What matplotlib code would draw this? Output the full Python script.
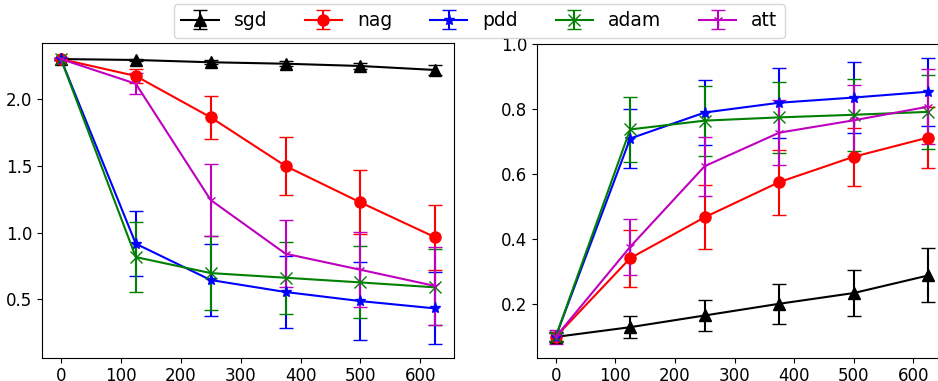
import numpy as np
import matplotlib.pyplot as plt

steps = [0, 125, 250, 375, 500, 625]
names = ["sgd", "nag", "pdd", "adam", "att"]
colors = ["k", "r", "b", "g", "m"]
markers = ["^", "o", "*", "x", "1"]

# left panel: loss
loss_sgd = [2.302, 2.295, 2.278, 2.267, 2.250, 2.220]
loss_nag = [2.302, 2.175, 1.865, 1.500, 1.227, 0.965]
loss_pdd = [2.302, 0.917, 0.645, 0.555, 0.487, 0.432]
loss_adam = [2.302, 0.817, 0.697, 0.662, 0.627, 0.590]
loss_att = [2.302, 2.117, 1.245, 0.842, 0.722, 0.600]
loss_sgd_err = [0.005, 0.010, 0.015, 0.020, 0.026, 0.034]
loss_nag_err = [0.005, 0.050, 0.159, 0.220, 0.240, 0.245]
loss_pdd_err = [0.005, 0.245, 0.270, 0.270, 0.290, 0.270]
loss_adam_err = [0.005, 0.265, 0.280, 0.270, 0.270, 0.285]
loss_att_err = [0.005, 0.080, 0.270, 0.250, 0.280, 0.290]

# right panel: accuracy
acc_sgd = [0.100, 0.130, 0.166, 0.202, 0.235, 0.289]
acc_nag = [0.100, 0.342, 0.468, 0.576, 0.654, 0.713]
acc_pdd = [0.100, 0.710, 0.790, 0.820, 0.836, 0.854]
acc_adam = [0.100, 0.738, 0.765, 0.775, 0.783, 0.792]
acc_att = [0.100, 0.377, 0.625, 0.728, 0.766, 0.808]
acc_sgd_err = [0.012, 0.034, 0.049, 0.062, 0.071, 0.083]
acc_nag_err = [0.015, 0.088, 0.098, 0.100, 0.089, 0.094]
acc_pdd_err = [0.015, 0.090, 0.100, 0.107, 0.108, 0.104]
acc_adam_err = [0.012, 0.101, 0.108, 0.110, 0.110, 0.113]
acc_att_err = [0.022, 0.087, 0.091, 0.099, 0.110, 0.115]

loss = [loss_sgd, loss_nag, loss_pdd, loss_adam, loss_att]
loss_err = [loss_sgd_err, loss_nag_err, loss_pdd_err, loss_adam_err, loss_att_err]
acc = [acc_sgd, acc_nag, acc_pdd, acc_adam, acc_att]
acc_err = [acc_sgd_err, acc_nag_err, acc_pdd_err, acc_adam_err, acc_att_err]

fig = plt.figure(figsize=(9.38, 3.81), dpi=100)
ax1 = fig.add_axes([0.045, 0.061, 0.439, 0.826])
ax2 = fig.add_axes([0.5725, 0.061, 0.437, 0.823])

for i in range(len(names)):
    ax1.errorbar(steps, loss[i], yerr=loss_err[i], color=colors[i], marker=markers[i],
                 markersize=8, capsize=5, label=names[i])
    ax2.errorbar(steps, acc[i], yerr=acc_err[i], color=colors[i], marker=markers[i],
                 markersize=8, capsize=5)

for ax in [ax1, ax2]:
    ax.tick_params(labelsize=12)
    ax.set_xlim(-31.25, 656.25)
ax1.set_ylim(0.062, 2.422)
ax2.set_ylim(0.036, 1.0)
ax1.set_yticks([0.5, 1.0, 1.5, 2.0])
ax2.set_yticks([0.2, 0.4, 0.6, 0.8, 1.0])

fig.legend(loc="upper center", bbox_to_anchor=(0.511, 1.0), ncol=5, fontsize=13.5,
           borderaxespad=0.2)
fig.savefig("out.png", dpi=100)
